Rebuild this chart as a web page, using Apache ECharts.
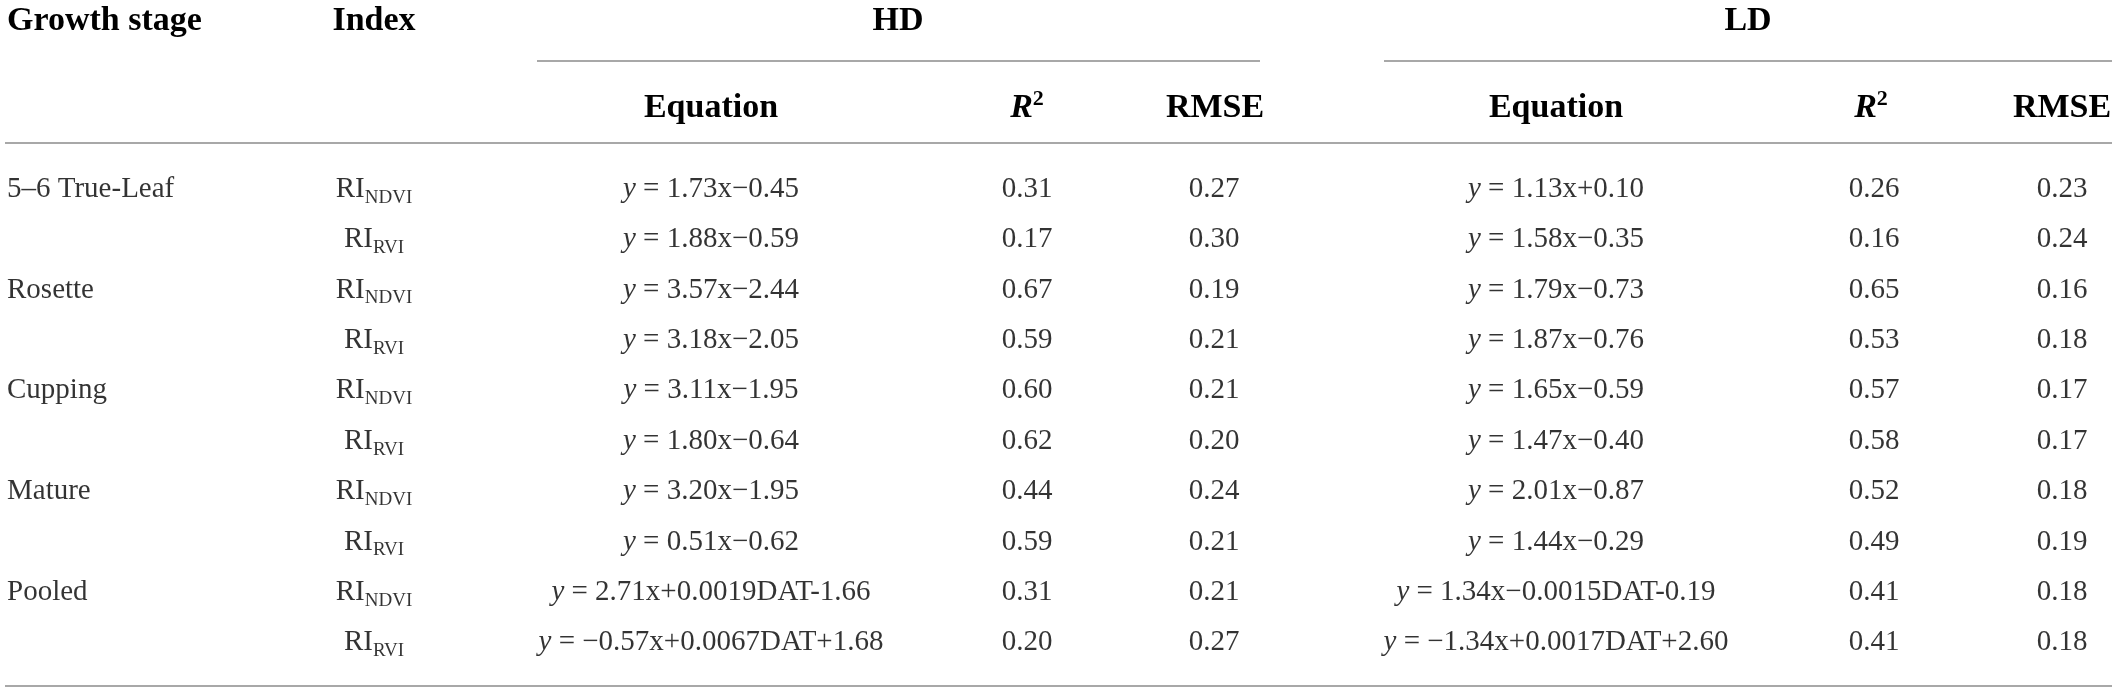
<!DOCTYPE html>
<html>
<head>
<meta charset="utf-8">
<script src="https://cdn.jsdelivr.net/npm/echarts@6/dist/echarts.min.js"></script>
<style>
html, body { margin: 0; padding: 0; background: #fff; }
#main { width: 2117px; height: 689px; }
</style>
</head>
<body>
<div id="main"></div>
<script>
// table values, one array per column
var stages = ['5–6 True-Leaf', '', 'Rosette', '', 'Cupping', '', 'Mature', '', 'Pooled', ''];
var indices = ['NDVI', 'RVI', 'NDVI', 'RVI', 'NDVI', 'RVI', 'NDVI', 'RVI', 'NDVI', 'RVI'];
var hdEquation = ['y = 1.73x−0.45', 'y = 1.88x−0.59', 'y = 3.57x−2.44', 'y = 3.18x−2.05', 'y = 3.11x−1.95',
    'y = 1.80x−0.64', 'y = 3.20x−1.95', 'y = 0.51x−0.62', 'y = 2.71x+0.0019DAT-1.66', 'y = −0.57x+0.0067DAT+1.68'];
var hdR2 = [0.31, 0.17, 0.67, 0.59, 0.60, 0.62, 0.44, 0.59, 0.31, 0.20];
var hdRmse = [0.27, 0.30, 0.19, 0.21, 0.21, 0.20, 0.24, 0.21, 0.21, 0.27];
var ldEquation = ['y = 1.13x+0.10', 'y = 1.58x−0.35', 'y = 1.79x−0.73', 'y = 1.87x−0.76', 'y = 1.65x−0.59',
    'y = 1.47x−0.40', 'y = 2.01x−0.87', 'y = 1.44x−0.29', 'y = 1.34x−0.0015DAT-0.19', 'y = −1.34x+0.0017DAT+2.60'];
var ldR2 = [0.26, 0.16, 0.65, 0.53, 0.57, 0.58, 0.52, 0.49, 0.41, 0.41];
var ldRmse = [0.23, 0.24, 0.16, 0.18, 0.17, 0.17, 0.18, 0.19, 0.18, 0.18];

// column centres (stage column is left aligned)
var colX = { stage: 7, index: 374, hdEq: 711, hdR2: 1027, hdRmse: 1214, ldEq: 1556, ldR2: 1874, ldRmse: 2062 };

var FONT = '"Liberation Serif", "DejaVu Serif", serif';
var INK = '#000';
var RULE = '#a8a8a8';

var bodyRich = {
    n: { fontFamily: FONT, fontSize: 29, color: INK, lineHeight: 36 },
    i: { fontFamily: FONT, fontSize: 29, color: INK, lineHeight: 36, fontStyle: 'italic' },
    s: { fontFamily: FONT, fontSize: 19, color: INK, lineHeight: 24, verticalAlign: 'bottom' }
};

function plain(t) { return '{n|' + t + '}'; }
function fmtIndex(t) { return '{n|RI}{s|' + t + '}'; }
function fmtEq(t) { return '{i|y}{n|' + t.slice(1) + '}'; }
function fmtNum(v) { return '{n|' + v.toFixed(2) + '}'; }

function column(x, values, fmt, align) {
    return {
        type: 'scatter',
        symbolSize: 0,
        silent: true,
        data: values.map(function (v, i) { return [x, i, v]; }),
        label: {
            show: true,
            position: 'inside',
            align: align || 'center',
            verticalAlign: 'middle',
            formatter: function (p) { return p.data[2] === '' ? '' : fmt(p.data[2]); },
            rich: bodyRich
        }
    };
}

function head(x, y, text, align) {
    return {
        type: 'text', x: x, y: y, silent: true,
        style: {
            text: text, align: align || 'center', verticalAlign: 'middle',
            rich: {
                b: { fontFamily: FONT, fontSize: 34, fontWeight: 'bold', color: INK, lineHeight: 40 },
                r: { fontFamily: FONT, fontSize: 34, fontWeight: 'bold', fontStyle: 'italic', color: INK, lineHeight: 40 },
                p: { fontFamily: FONT, fontSize: 22, fontWeight: 'bold', color: INK, lineHeight: 27, verticalAlign: 'top' }
            }
        }
    };
}

function rule(x1, x2, y) {
    return { type: 'line', silent: true, shape: { x1: x1, y1: y, x2: x2, y2: y }, style: { stroke: RULE, lineWidth: 2 } };
}

var chart = echarts.init(document.getElementById('main'));
chart.setOption({
    animation: false,
    backgroundColor: '#fff',
    grid: { left: 0, right: 0, top: 164, height: 504 },
    xAxis: { type: 'value', min: 0, max: 2117, show: false },
    yAxis: { type: 'category', inverse: true, data: hdEquation.map(function (_, i) { return i; }), show: false },
    series: [
        column(colX.stage, stages, plain, 'left'),
        column(colX.index, indices, fmtIndex),
        column(colX.hdEq, hdEquation, fmtEq),
        column(colX.hdR2, hdR2, fmtNum),
        column(colX.hdRmse, hdRmse, fmtNum),
        column(colX.ldEq, ldEquation, fmtEq),
        column(colX.ldR2, ldR2, fmtNum),
        column(colX.ldRmse, ldRmse, fmtNum)
    ],
    graphic: [
        head(colX.stage, 21, '{b|Growth stage}', 'left'),
        head(colX.index, 21, '{b|Index}'),
        head(898, 21, '{b|HD}'),
        head(1748, 21, '{b|LD}'),
        head(colX.hdEq, 108, '{b|Equation}'),
        head(colX.hdR2, 108, '{r|R}{p|2}'),
        head(1215, 108, '{b|RMSE}'),
        head(colX.ldEq, 108, '{b|Equation}'),
        head(1871, 108, '{r|R}{p|2}'),
        head(colX.ldRmse, 108, '{b|RMSE}'),
        rule(537, 1260, 61),
        rule(1384, 2112, 61),
        rule(5, 2112, 143),
        rule(5, 2112, 686)
    ]
});
</script>
</body>
</html>
